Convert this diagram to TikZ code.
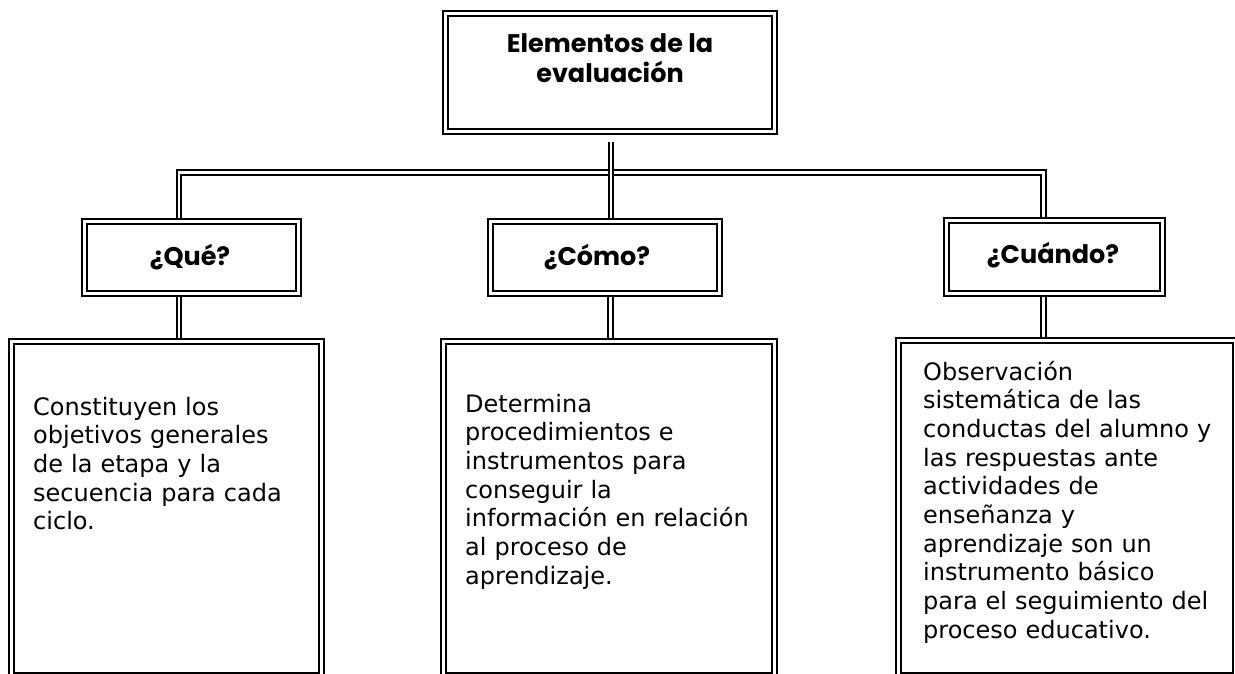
\documentclass[tikz,border=0pt]{standalone}
\usepackage{fontspec}
\setmainfont{DejaVu Sans}
\newfontfamily\titlefont{Poppins}
\begin{document}
\begin{tikzpicture}[x=1pt,y=-1pt,
  box/.style={draw, line width=2.6pt, inner sep=0pt},
  frame/.style={path picture={\draw[line width=1.3pt] ([shift={(5pt,-5pt)}]path picture bounding box.north west) rectangle ([shift={(-5pt,5pt)}]path picture bounding box.south east);}},
  dbl/.style={draw, double, line width=1.8pt, double distance=2.6pt},
  ttl/.style={font=\titlefont\bfseries\fontsize{25.5}{30}\selectfont, align=center, inner sep=0pt},
  body/.style={font=\fontsize{24}{28.7}\selectfont, align=left, text width=300pt, inner sep=0pt, anchor=base west}
]
\useasboundingbox (0,0) rectangle (1235,674);
\begin{scope}
\clip (0,0) rectangle (1235,674);
% boxes
\node[box, frame, minimum width=334pt, minimum height=123pt] (top) at (610,72.5) {};
\node[box, frame, minimum width=219pt, minimum height=77pt] (que) at (191.5,257.5) {};
\node[box, frame, minimum width=234pt, minimum height=77pt] (como) at (605,257.5) {};
\node[box, frame, minimum width=221pt, minimum height=78pt] (cuando) at (1054.5,257) {};
\node[box, frame, minimum width=315pt, minimum height=339pt] (qbot) at (166.5,508.5) {};
\node[box, frame, minimum width=336pt, minimum height=339pt] (cbot) at (609,508.5) {};
\node[box, frame, minimum width=342pt, minimum height=340pt] (wbot) at (1067,508) {};
% titles
\node[ttl, anchor=base] (ttop) at (610,83) {Elementos de la\\evaluación};
\node[ttl, anchor=base] (tque) at (190,265) {¿Qué?};
\node[ttl, anchor=base] (tcomo) at (597,265) {¿Cómo?};
\node[ttl, anchor=base] (tcuando) at (1053,263) {¿Cuándo?};
% body texts
\node[body] (bque) at (33,415) {Constituyen los\\objetivos generales\\de la etapa y la\\secuencia para cada\\ciclo.};
\node[body] (bcomo) at (465,412) {Determina\\procedimientos e\\instrumentos para\\conseguir la\\información en relación\\al proceso de\\aprendizaje.};
\node[body] (bcuando) at (923,380) {Observación\\sistemática de las\\conductas del alumno y\\las respuestas ante\\actividades de\\enseñanza y\\aprendizaje son un\\instrumento básico\\para el seguimiento del\\proceso educativo.};
% connectors
\coordinate (barL) at (179,172.5);
\coordinate (barR) at (1043.5,172.5);
\path[dbl] (que.north -| barL) -- (barL) -- (barR) -- (barR |- cuando.north);
\path[dbl, shorten <=7pt] (top.south -| 611,0) -- (como.north -| 611,0);
\path[dbl] (que.south -| barL) -- (qbot.north -| barL);
\path[dbl] (como.south -| 610.5,0) -- (cbot.north -| 610.5,0);
\path[dbl] (cuando.south -| barR) -- (wbot.north -| barR);
\end{scope}
\end{tikzpicture}
\end{document}
